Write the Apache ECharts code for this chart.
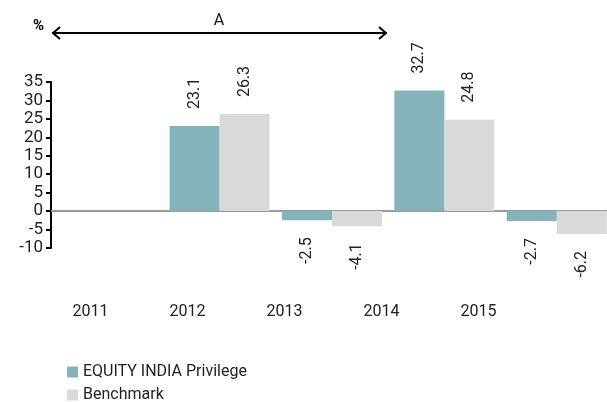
<!DOCTYPE html>
<html><head><meta charset="utf-8">
<script src="https://cdn.jsdelivr.net/npm/echarts@6/dist/echarts.min.js"></script>
<style>html,body{margin:0;padding:0;background:#fff}#c{width:607px;height:402px}</style>
</head><body><div id="c"></div>
<script>
const categories = ['2011', '2012', '2013', '2014', '2015'];
const fundValues = [null, 23.1, -2.5, 32.7, -2.7];
const benchValues = [null, 26.3, -4.1, 24.8, -6.2];
const yTicks = { min: -10, max: 35, interval: 5 };
const seriesNames = ['EQUITY INDIA Privilege', 'Benchmark'];
const FONT = 'Roboto, sans-serif';

function withLabels(vals) {
  return vals.map(v => {
    if (v === null) return null;
    return {
      value: v,
      label: v >= 0
        ? { position: 'top', align: 'left' }
        : { position: 'bottom', align: 'right' }
    };
  });
}
const labelCommon = {
  show: true, rotate: 90, verticalAlign: 'middle', distance: 17,
  fontFamily: FONT, fontSize: 16, color: '#222',
  formatter: p => p.value.toFixed(1)
};
const legendCommon = {
  orient: 'vertical', left: 62, itemWidth: 11, itemHeight: 11,
  icon: 'rect', textStyle: { fontSize: 16, color: '#222', fontFamily: FONT }
};

const chart = echarts.init(document.getElementById('c'), null, { renderer: 'canvas' });
chart.setOption({
  animation: false,
  textStyle: { fontFamily: FONT },
  grid: [
    { left: 51, top: 82, width: 562, height: 166, outerBoundsMode: 'none' },
    { left: 42, top: 295, width: 485, height: 1, outerBoundsMode: 'none' }
  ],
  xAxis: [
    { type: 'category', data: categories, gridIndex: 0,
      axisLine: { onZero: true, lineStyle: { color: '#999', width: 2 } },
      axisTick: { show: false }, axisLabel: { show: false } },
    { type: 'category', data: categories, gridIndex: 1,
      axisLine: { show: false }, axisTick: { show: false },
      axisLabel: { fontSize: 16, color: '#222', margin: 8, fontFamily: FONT } }
  ],
  yAxis: [
    { type: 'value', gridIndex: 0, min: yTicks.min, max: yTicks.max, interval: yTicks.interval,
      splitLine: { show: false },
      axisLine: { show: true, lineStyle: { color: '#000', width: 2 } },
      axisTick: { show: true, length: 5, lineStyle: { color: '#000', width: 2 } },
      axisLabel: { fontSize: 17, color: '#222', margin: 8, fontFamily: FONT } },
    { type: 'value', gridIndex: 1, show: false }
  ],
  legend: [
    Object.assign({ top: 359, data: [seriesNames[0]] }, legendCommon),
    Object.assign({ top: 382, data: [seriesNames[1]] }, legendCommon)
  ],
  series: [
    { name: seriesNames[0], type: 'bar', data: withLabels(fundValues), barGap: '0%', barCategoryGap: '11%',
      itemStyle: { color: '#84b3b9' }, label: labelCommon },
    { name: seriesNames[1], type: 'bar', data: withLabels(benchValues), barGap: '0%', barCategoryGap: '11%',
      itemStyle: { color: '#d9d9d9' }, label: labelCommon }
  ],
  graphic: [
    { type: 'text', left: 33, top: 19, style: { text: '%', font: 'bold 15px ' + FONT, fill: '#000' } },
    { type: 'text', x: 219, y: 21, style: { text: 'A', font: '16px ' + FONT, fill: '#111', align: 'center', verticalAlign: 'middle' } },
    { type: 'line', shape: { x1: 52, y1: 33, x2: 387, y2: 33 }, style: { stroke: '#000', lineWidth: 2 } },
    { type: 'polyline', shape: { points: [[60, 27], [53, 33], [60, 39]] }, style: { stroke: '#000', lineWidth: 2, fill: null } },
    { type: 'polyline', shape: { points: [[379, 27], [386, 33], [379, 39]] }, style: { stroke: '#000', lineWidth: 2, fill: null } }
  ]
});
</script></body></html>
